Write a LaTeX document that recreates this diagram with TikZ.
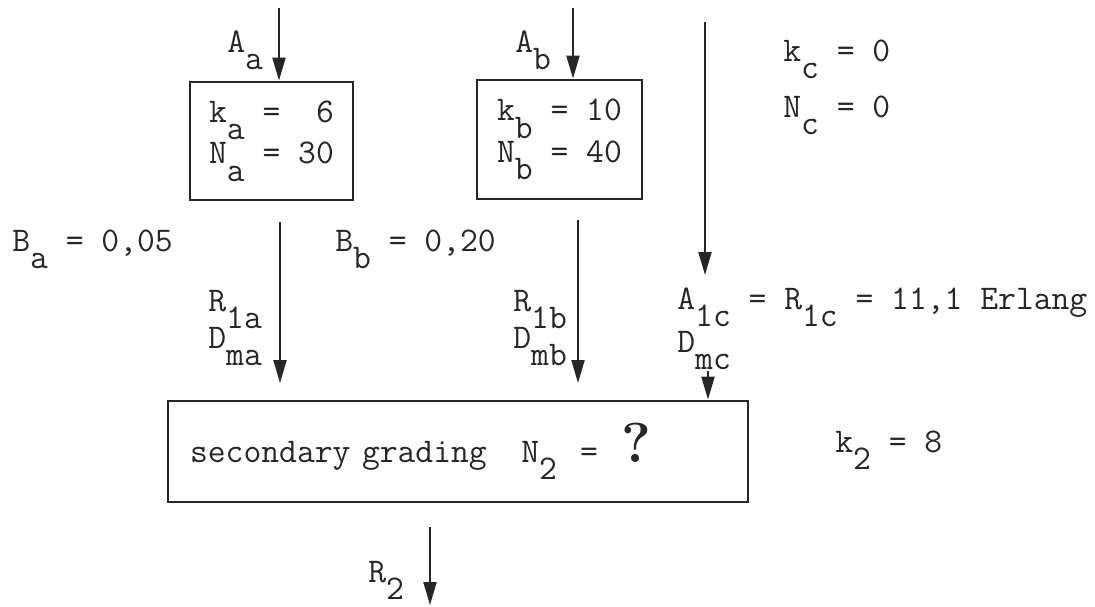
\documentclass[tikz,border=0pt]{standalone}
\usepackage{fontspec}
\usepackage{tikz}
\usetikzlibrary{
	arrows.meta,
	positioning,
	calc
}

% typed subscript: same letter, dropped below the line
\newcommand{\sub}[1]{\raisebox{-0.5em}{#1}}
% the big inked question mark
\newcommand{\qmark}{{\rmfamily\bfseries\fontsize{32}{32}\selectfont ?}}

\begin{document}
\begin{tikzpicture}[
        x=0.02cm, y=-0.02cm,
        >={Triangle[length=0.46cm, width=0.26cm]},
        font=\ttfamily\fontsize{19.7}{23.6}\selectfont,
        color=black!85,
        % typed box
        box/.style={
            rectangle, draw,
            line width=1.6pt,
            align=center,
            inner sep=0pt
        },
        % typed label, placed on its baseline
        lbl/.style={anchor=base west, inner sep=0pt},
        % traffic arrow
        flow/.style={->, line width=1.2pt}
    ]
        \useasboundingbox (0,0) rectangle (1095,606);

        % ====================
        % Primary gradings
        % ====================
        \node[box, minimum width=3.26cm, minimum height=2.36cm] (boxA) at (271.5,141) {k\sub{a} =~~6\\N\sub{a} = 30};
        \node[box, minimum width=3.3cm, minimum height=2.38cm] (boxB) at (559.5,139.5) {k\sub{b} = 10\\N\sub{b} = 40};

        % ====================
        % Secondary grading
        % ====================
        \node[box, minimum width=11.6cm, minimum height=2.02cm, text width=10.72cm, align=left] (boxS) at (458,451.5)
            {secondary grading~~~N\sub{2}~~=~~\qmark};

        % ====================
        % Labels
        % ====================
        \node[lbl] (lblAa) at (227,52) {A\sub{a}};
        \node[lbl] (lblAb) at (515,52) {A\sub{b}};
        \node[lbl] (lblkc) at (783,61) {k\sub{c} = 0};
        \node[lbl] (lblNc) at (783,117) {N\sub{c} = 0};

        \node[lbl] (lblBa) at (12,251) {B\sub{a} = 0,05};
        \node[lbl] (lblBb) at (335,251) {B\sub{b} = 0,20};

        \node[lbl] (lblRa) at (208,311) {R\sub{1a}};
        \node[lbl] (lblDa) at (208,348) {D\sub{ma}};
        \node[lbl] (lblRb) at (513,311) {R\sub{1b}};
        \node[lbl] (lblDb) at (513,348) {D\sub{mb}};
        \node[lbl] (lblAc) at (677,309) {A\sub{1c} = R\sub{1c} = 11,1 Erlang};
        \node[lbl] (lblDc) at (677,352) {D\sub{mc}};

        \node[lbl] (lblk2) at (835,452) {k\sub{2} = 8};
        \node[lbl] (lblR2) at (368,582) {R\sub{2}};

        % ====================
        % Arrows
        % ====================
        \coordinate (inA) at (279,8);
        \coordinate (inB) at (573,8);
        \coordinate (inC) at (705,22);
        \coordinate (endC) at (705,275);
        \coordinate (outA) at (280,222);
        \coordinate (endA) at (280,383);
        \coordinate (outB) at (578,220);
        \coordinate (endB) at (578,383);
        \coordinate (inDc) at (708,371);
        \coordinate (outS) at (430,527);
        \coordinate (endS) at (430,605);

        \draw[flow] (inA) -- (inA |- boxA.north);
        \draw[flow] (inB) -- (inB |- boxB.north);
        \draw[flow] (inC) -- (endC);
        \draw[flow] (outA) -- (endA);
        \draw[flow] (outB) -- (endB);
        \draw[flow] (inDc) -- (inDc |- boxS.north);
        \draw[flow] (outS) -- (endS);

    \end{tikzpicture}
\end{document}
